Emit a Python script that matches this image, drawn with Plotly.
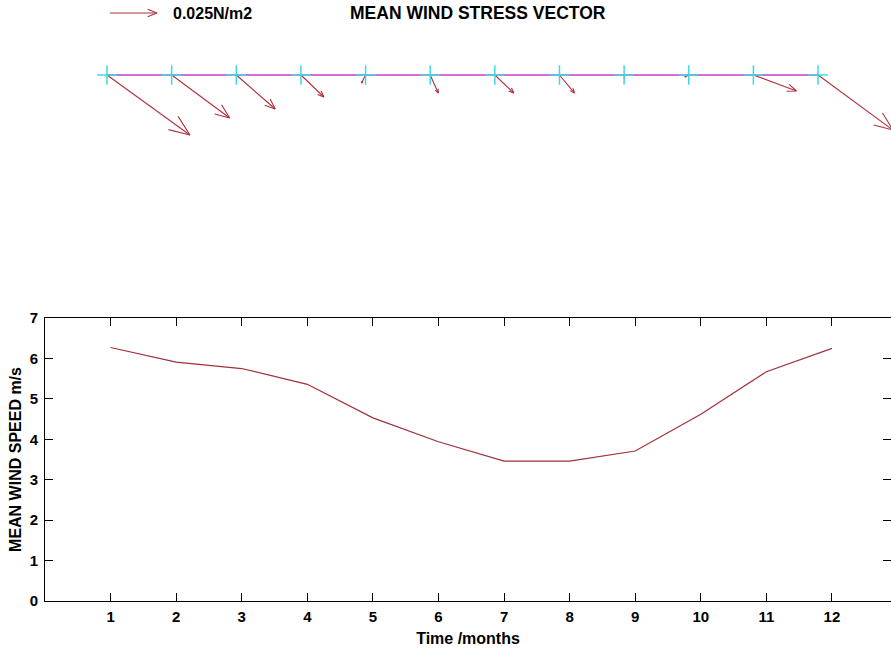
import numpy as np
import plotly.graph_objects as go

# Monthly climatology
months = [1, 2, 3, 4, 5, 6, 7, 8, 9, 10, 11, 12]
wind_speed = [6.27, 5.91, 5.75, 5.36, 4.53, 3.94, 3.46, 3.46, 3.71, 4.62, 5.67, 6.25]  # m/s
# Mean wind stress components (N/m2): eastward (taux) and northward (tauy)
taux = [0.0441, 0.0309, 0.0207, 0.0122, -0.0021, 0.0043, 0.0101, 0.0080, 0.0002, -0.0021, 0.0229, 0.0399]
tauy = [-0.0319, -0.0229, -0.0181, -0.0117, -0.0043, -0.0096, -0.0096, -0.0096, -0.0021, -0.0011, -0.0085, -0.0293]
ref_stress = 0.025  # N/m2, key arrow
x_ticks = list(range(1, 13))
y_ticks = list(range(0, 8))

W, H = 891, 654
ARROW = "#b0303e"
LINE = "#a0303c"
FONT = "Arial, Liberation Sans, sans-serif"

# quiver geometry: month units on both axes, vector scale in months per N/m2
px_per_month = 64.64
scale = 47.0 / ref_stress / px_per_month
top_px = 250.0
x2_left = 1 - 107.0 / px_per_month
x2_range = [x2_left, x2_left + W / px_per_month]
y2_top = 75.0 / px_per_month
y2_range = [y2_top - top_px / px_per_month, y2_top]


def arrow_path(x0, y0, u, v, alpha=0.2, beta=0.4):
    """Shaft plus two head barbs, returned as a polyline with a None break."""
    x1, y1 = x0 + u, y0 + v
    bx1 = x1 - alpha * (u + beta * v)
    by1 = y1 - alpha * (v - beta * u)
    bx2 = x1 - alpha * (u - beta * v)
    by2 = y1 - alpha * (v + beta * u)
    return [x0, x1, None, bx1, x1, bx2], [y0, y1, None, by1, y1, by2]


fig = go.Figure()

# bottom panel: mean wind speed
fig.add_trace(go.Scatter(x=months, y=wind_speed, mode="lines",
                         line=dict(color=LINE, width=1.2),
                         xaxis="x", yaxis="y", showlegend=False, hoverinfo="skip"))

# top panel: baseline, station markers and stress vectors
fig.add_trace(go.Scatter(x=[months[0], months[-1]], y=[0, 0], mode="lines",
                         line=dict(color="#c040c0", width=1.3),
                         xaxis="x2", yaxis="y2", showlegend=False, hoverinfo="skip"))

qx, qy = [], []
for m, u, v in zip(months, taux, tauy):
    px_, py_ = arrow_path(m, 0.0, u * scale, v * scale)
    qx += px_ + [None]
    qy += py_ + [None]
fig.add_trace(go.Scatter(x=qx, y=qy, mode="lines",
                         line=dict(color=ARROW, width=1.1),
                         xaxis="x2", yaxis="y2", showlegend=False, hoverinfo="skip"))

fig.add_trace(go.Scatter(x=months, y=[0] * len(months), mode="markers",
                         marker=dict(symbol="cross-thin", size=14,
                                     line=dict(color="#40d8e0", width=1.5)),
                         xaxis="x2", yaxis="y2", showlegend=False, hoverinfo="skip"))

# key arrow
key_x0 = x2_left + 110.0 / px_per_month
key_y0 = y2_top - 13.0 / px_per_month
kx, ky = arrow_path(key_x0, key_y0, ref_stress * scale, 0.0)
fig.add_trace(go.Scatter(x=kx, y=ky, mode="lines",
                         line=dict(color=ARROW, width=1.1),
                         xaxis="x2", yaxis="y2", showlegend=False, hoverinfo="skip"))

fig.add_annotation(x=x2_left + 171.0 / px_per_month, y=key_y0, xref="x2", yref="y2",
                   text="<b>0.025N/m2</b>", showarrow=False, xanchor="left", yanchor="middle",
                   font=dict(family=FONT, size=16, color="black"))
fig.add_annotation(x=x2_left + 478.0 / px_per_month, y=key_y0, xref="x2", yref="y2",
                   text="<b>MEAN WIND STRESS VECTOR</b>", showarrow=False,
                   xanchor="center", yanchor="middle",
                   font=dict(family=FONT, size=17.5, color="black"))

x_left = 45.0
px_month_b = 65.58
x_range = [0, (W - x_left) / px_month_b]

fig.update_layout(
    width=W, height=H,
    margin=dict(l=0, r=0, t=0, b=0, pad=0),
    paper_bgcolor="white", plot_bgcolor="white",
    font=dict(family=FONT, color="black"),
    xaxis=dict(domain=[x_left / W, 1], range=x_range, tickvals=x_ticks,
               ticktext=[f"<b>{t}</b>" for t in x_ticks],
               ticks="inside", ticklen=8, tickcolor="black", showline=True,
               linecolor="black", linewidth=1, mirror="ticks", showgrid=False,
               zeroline=False, tickfont=dict(size=15), automargin=False,
               ticklabelstandoff=2,
               title=dict(text="<b>Time /months</b>", font=dict(size=16), standoff=8),
               anchor="y"),
    yaxis=dict(domain=[(H - 601.0) / H, (H - 318.0) / H], range=[0, 7], tickvals=y_ticks,
               ticktext=[f"<b>{t}</b>" for t in y_ticks],
               ticks="inside", ticklen=8, tickcolor="black", showline=True,
               linecolor="black", linewidth=1, mirror="ticks", showgrid=False,
               zeroline=False, tickfont=dict(size=15), automargin=False,
               ticklabelstandoff=3,
               title=dict(text="<b>MEAN WIND SPEED m/s</b>", font=dict(size=16), standoff=4),
               anchor="x"),
    xaxis2=dict(domain=[0, 1], range=x2_range, visible=False, anchor="y2", automargin=False),
    yaxis2=dict(domain=[1 - top_px / H, 1], range=y2_range, visible=False, anchor="x2",
                automargin=False),
)

fig.write_html("out.html")
